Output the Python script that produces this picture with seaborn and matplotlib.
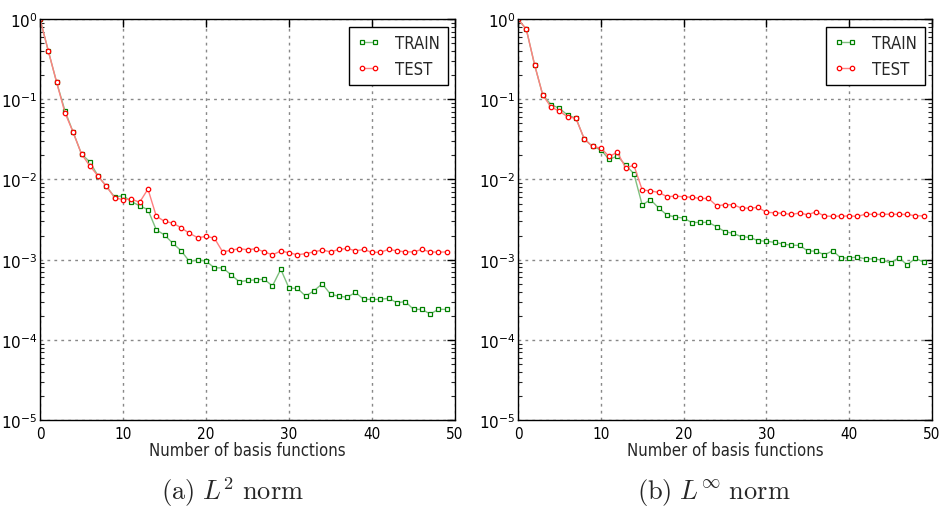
import matplotlib
matplotlib.use("Agg")
import matplotlib.pyplot as plt
import seaborn as sns
import numpy as np

# Number of basis functions
n_basis = list(range(50))

# Relative error, L2 norm
l2_train = [1.0, 0.40, 0.163, 0.072, 0.0386, 0.0207, 0.0166, 0.0110, 0.0082, 0.0060,
            0.0063, 0.0053, 0.0047, 0.0042, 0.00236, 0.00203, 0.0016, 0.00129, 0.00095, 0.00099,
            0.00096, 0.00079, 0.00079, 0.00065, 0.00053, 0.00055, 0.00056, 0.00057, 0.00047, 0.00076,
            0.00044, 0.00044, 0.00035, 0.00041, 0.00050, 0.00037, 0.00035, 0.00034, 0.00039, 0.00032,
            0.00032, 0.00032, 0.00033, 0.00029, 0.00030, 0.00024, 0.00024, 0.00021, 0.00024, 0.00024]
l2_test = [1.0, 0.40, 0.163, 0.068, 0.0386, 0.0207, 0.0148, 0.0110, 0.0082, 0.0059,
           0.0056, 0.0057, 0.0052, 0.0076, 0.0035, 0.0030, 0.00286, 0.0025, 0.00213, 0.00188,
           0.00195, 0.00186, 0.00125, 0.00131, 0.00137, 0.00133, 0.00137, 0.00125, 0.00115, 0.00128,
           0.00122, 0.00115, 0.00119, 0.00125, 0.00132, 0.00125, 0.00134, 0.00138, 0.00129, 0.00134,
           0.00123, 0.00124, 0.00134, 0.00129, 0.00125, 0.00125, 0.00134, 0.00125, 0.00124, 0.00125]

# Relative error, L-infinity norm
linf_train = [1.0, 0.75, 0.27, 0.112, 0.086, 0.077, 0.0635, 0.058, 0.032, 0.0258,
              0.0235, 0.0178, 0.0196, 0.0151, 0.0118, 0.0048, 0.0056, 0.0044, 0.0036, 0.0034,
              0.0033, 0.0029, 0.00292, 0.00292, 0.00257, 0.00223, 0.00213, 0.00193, 0.0019, 0.00172,
              0.0017, 0.00164, 0.00157, 0.00151, 0.00151, 0.00128, 0.00128, 0.00115, 0.00129, 0.00105,
              0.00105, 0.00108, 0.00102, 0.00102, 0.00099, 0.00091, 0.00106, 0.00086, 0.00104, 0.00093]
linf_test = [1.0, 0.75, 0.27, 0.112, 0.080, 0.071, 0.0605, 0.058, 0.032, 0.0258,
             0.0247, 0.0194, 0.0218, 0.014, 0.015, 0.0074, 0.0072, 0.0069, 0.0061, 0.0062,
             0.0061, 0.0060, 0.0058, 0.0058, 0.0047, 0.00484, 0.00484, 0.0044, 0.0044, 0.00449,
             0.00389, 0.00385, 0.00378, 0.00367, 0.00381, 0.00363, 0.00396, 0.0035, 0.00347, 0.0035,
             0.0035, 0.00347, 0.0037, 0.00367, 0.00367, 0.0037, 0.00367, 0.00367, 0.00352, 0.00352]

series_labels = ["TRAIN", "TEST"]
x_label = "Number of basis functions"
x_ticks = [0, 10, 20, 30, 40, 50]
y_ticks = [1e-5, 1e-4, 1e-3, 1e-2, 1e-1, 1]
y_ticklabels = [r"$10^{-5}$", r"$10^{-4}$", r"$10^{-3}$", r"$10^{-2}$", r"$10^{-1}$", r"$10^{0}$"]
captions = [r"$\mathrm{(a)}\ L^2\ \mathrm{norm}$", r"$\mathrm{(b)}\ L^\infty\ \mathrm{norm}$"]

sns.set_style("white")
plt.rcParams["font.family"] = ["DejaVu Sans"]
plt.rcParams["mathtext.fontset"] = "dejavusans"

train_style = dict(color="#80c080", marker="s", markersize=3.2, markerfacecolor="white",
                   markeredgecolor="#008000", markeredgewidth=0.9, linewidth=1.0)
test_style = dict(color="#ff8080", marker="o", markersize=3.2, markerfacecolor="white",
                  markeredgecolor="#ff0000", markeredgewidth=0.9, linewidth=1.0)

fig = plt.figure(figsize=(9.42, 5.10), dpi=100)
ax_l = fig.add_axes([0.0425, 0.1745, 0.4406, 0.786])
ax_r = fig.add_axes([0.5499, 0.1745, 0.4395, 0.786])

panels = [(ax_l, l2_train, l2_test), (ax_r, linf_train, linf_test)]
for ax, tr, te in panels:
    sns.lineplot(x=n_basis, y=tr, ax=ax, label=series_labels[0], **train_style)
    sns.lineplot(x=n_basis, y=te, ax=ax, label=series_labels[1], **test_style)
    ax.set_yscale("log")
    ax.set_xlim(0, 50)
    ax.set_ylim(1e-5, 1)
    ax.set_xticks(x_ticks)
    ax.set_yticks(y_ticks)
    ax.set_yticklabels(y_ticklabels)
    ax.grid(True, which="major", color="#888888", linestyle=(0, (2, 3)), linewidth=1.0)
    ax.tick_params(which="major", direction="in", length=6, width=1, top=True, right=True,
                   labelsize=11, colors="black")
    ax.tick_params(axis="x", which="major", pad=4)
    ax.tick_params(axis="y", which="major", pad=2)
    ax.tick_params(which="minor", direction="in", length=3, width=0.8, left=True, right=True)
    for lab in ax.get_xticklabels() + ax.get_yticklabels():
        lab.set_fontstretch("condensed")
    for sp in ax.spines.values():
        sp.set_color("black")
        sp.set_linewidth(1.0)
    ax.set_xlabel(x_label, fontsize=12, fontstretch="condensed", labelpad=0)
    ax.set_ylabel("")
    leg = ax.legend(loc="upper right", numpoints=2, fancybox=False, framealpha=1,
                    edgecolor="black", fontsize=12, handlelength=1.4, handletextpad=0.9,
                    borderpad=0.45, labelspacing=0.45, borderaxespad=0.45)
    leg.get_frame().set_linewidth(1.0)
    for t in leg.get_texts():
        t.set_fontstretch("condensed")

fig.text(232 / 942, 0.035, captions[0], ha="center", va="center", fontsize=19,
         math_fontfamily="cm")
fig.text(714 / 942, 0.035, captions[1], ha="center", va="center", fontsize=19,
         math_fontfamily="cm")

fig.savefig("out.png", dpi=100, facecolor="white")
